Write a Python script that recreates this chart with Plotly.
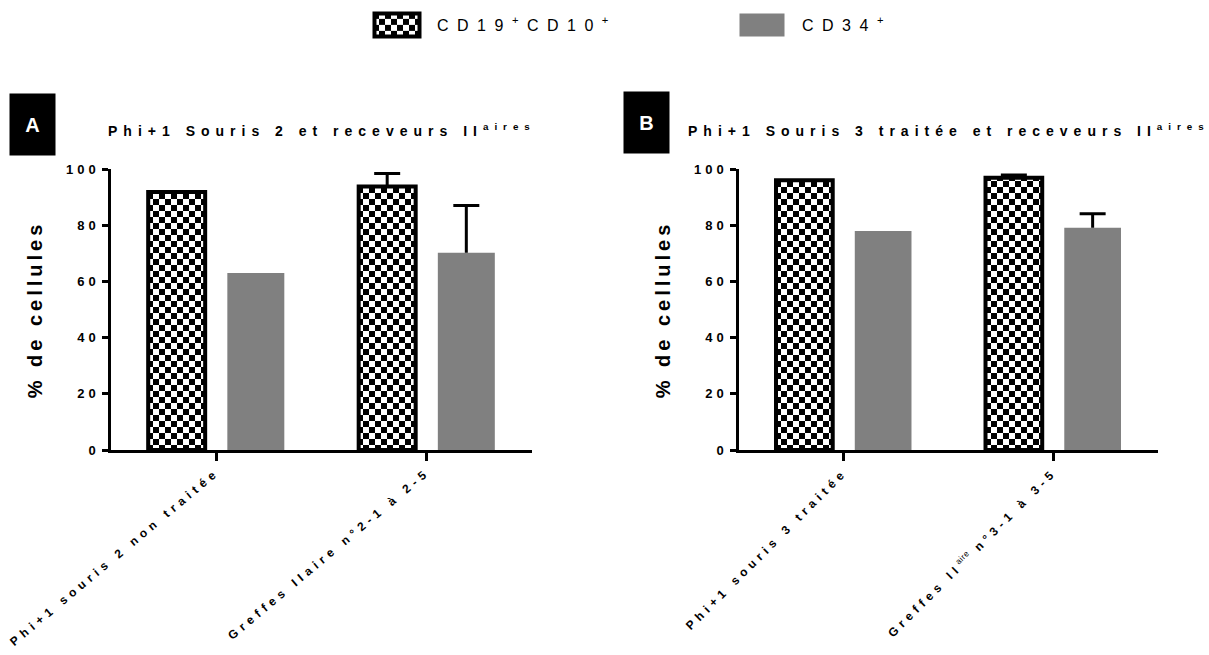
import plotly.graph_objects as go

# ---------------- data ----------------
series_names = ["CD19<sup>+</sup>CD10<sup>+</sup>", "CD34<sup>+</sup>"]

categories_A = ["Phi+1 souris 2 non traitée", "Greffes IIaire n°2-1 à 2-5"]
cd19_A = [91.8, 93.8]
cd19_A_err = [None, 4.6]
cd34_A = [63.0, 70.2]
cd34_A_err = [None, 16.8]

categories_B = ["Phi+1 souris 3 traitée", "Greffes II<sup>aire</sup> n°3-1 à 3-5"]
cd19_B = [96.0, 96.9]
cd19_B_err = [None, 1.0]
cd34_B = [77.9, 79.1]
cd34_B_err = [None, 5.0]

title_A = "Phi+1 Souris 2 et receveurs II<sup>aires</sup>"
title_B = "Phi+1 Souris 3 traitée et receveurs II<sup>aires</sup>"
y_title = "% de cellules"
y_ticks = [0, 20, 40, 60, 80, 100]

FONT = "Liberation Sans, Arial, sans-serif"
GRAY = "#808080"
W, H = 1209, 655

fig = go.Figure()


def add_panel(cats, v19, e19, v34, e34, xa, ya, show):
    fig.add_trace(go.Bar(
        x=cats, y=v19, name=series_names[0], xaxis=xa, yaxis=ya,
        legendgroup="cd19", showlegend=show,
        marker=dict(color="white", line=dict(color="black", width=4),
                    pattern=dict(shape="x", fgcolor="black", bgcolor="white",
                                 size=12, solidity=0.5)),
        error_y=dict(type="data", symmetric=False, array=e19,
                     arrayminus=[0] * len(e19), color="black",
                     thickness=3, width=13),
    ))
    fig.add_trace(go.Bar(
        x=cats, y=v34, name=series_names[1], xaxis=xa, yaxis=ya,
        legendgroup="cd34", showlegend=show,
        marker=dict(color=GRAY, line=dict(width=0)),
        error_y=dict(type="data", symmetric=False, array=e34,
                     arrayminus=[0] * len(e34), color="black",
                     thickness=3, width=13),
    ))


add_panel(categories_A, cd19_A, cd19_A_err, cd34_A, cd34_A_err, "x", "y", True)
add_panel(categories_B, cd19_B, cd19_B_err, cd34_B, cd34_B_err, "x2", "y2", False)

ydom = [1 - 450 / H, 1 - 169 / H]
xdomA = [111 / W, 532 / W]
xdomB = [739 / W, 1158 / W]

xaxis_common = dict(
    range=[-0.5, 1.5], showline=True, linewidth=2.5, linecolor="black",
    ticks="outside", ticklen=8, tickwidth=2.5, tickcolor="black",
    showgrid=False, zeroline=False, automargin=False,
    tickfont=dict(family=FONT, size=12, color="black", weight="bold"),
)
yaxis_common = dict(
    range=[0, 100], tickvals=y_ticks, showline=True, linewidth=2.5,
    linecolor="black", ticks="outside", ticklen=6, tickwidth=2.5,
    tickcolor="black", showgrid=False, zeroline=False, automargin=False,
    tickfont=dict(family=FONT, size=13, color="black", weight="bold"),
    title=dict(text=y_title, standoff=30,
               font=dict(family=FONT, size=20, color="black", weight="bold")),
    domain=ydom,
)

fig.update_layout(
    width=W, height=H,
    margin=dict(l=0, r=0, t=0, b=0, autoexpand=False),
    paper_bgcolor="white", plot_bgcolor="white",
    barmode="group", bargap=0.248, bargroupgap=0.28,
    font=dict(family=FONT, color="black"),
    xaxis=dict(domain=xdomA, anchor="y", tickangle=-40, **xaxis_common),
    yaxis=dict(anchor="x", **yaxis_common),
    xaxis2=dict(domain=xdomB, anchor="y2", tickangle=-45, **xaxis_common),
    yaxis2=dict(anchor="x2", **yaxis_common),
    legend=dict(orientation="h", x=357 / W, xanchor="left", y=1 - 8 / H,
                yanchor="top", itemwidth=70, entrywidth=280,
                font=dict(family=FONT, size=16, color="black"),
                bgcolor="rgba(0,0,0,0)"),
    showlegend=True,
)

title_y = 1 - 130 / H
for txt, xr in [(title_A, "x domain"), (title_B, "x2 domain")]:
    fig.add_annotation(text=txt, xref=xr, yref="paper", x=0.5, y=title_y,
                       xanchor="center", yanchor="middle", showarrow=False,
                       font=dict(family=FONT, size=14, color="black", weight="bold"))

for letter, cx, cy in [("A", 32.5, 124.5), ("B", 646.5, 122)]:
    fig.add_annotation(text=letter, xref="paper", yref="paper", x=cx / W, y=1 - cy / H,
                       xanchor="center", yanchor="middle", showarrow=False,
                       width=45, height=61, bgcolor="black", borderpad=0,
                       font=dict(family=FONT, size=20, color="white", weight="bold"))

post = r"""
document.body.style.margin = '0';
document.body.style.overflow = 'hidden';
var gd = document.querySelector('.js-plotly-plot');
var ns = 'http://www.w3.org/2000/svg';
gd.querySelectorAll('pattern').forEach(function(p){
  var c = 6;
  p.setAttribute('width', 2*c); p.setAttribute('height', 2*c);
  p.removeAttribute('patternTransform');
  while (p.firstChild) p.removeChild(p.firstChild);
  function r(x,y,w,h,f){var e=document.createElementNS(ns,'rect');
    e.setAttribute('x',x);e.setAttribute('y',y);e.setAttribute('width',w);
    e.setAttribute('height',h);e.setAttribute('fill',f);
    e.setAttribute('shape-rendering','crispEdges');p.appendChild(e);}
  r(0,0,2*c,2*c,'#ffffff'); r(0,0,c,c,'#000000'); r(c,c,c,c,'#000000');
});
gd.querySelectorAll('.legend .legendpoints path').forEach(function(e){
  var d = e.getAttribute('d') || '';
  if (d.indexOf('M6,6H-6V-6H6Z') === 0) e.setAttribute('d', 'M22.5,11.5H-22.5V-11.5H22.5Z');
});
// one-sided (upper) error bars: drop the lower cap, hide zero-length bars
gd.querySelectorAll('.errorbar path.yerror').forEach(function(e){
  var d = e.getAttribute('d') || '';
  var i = d.indexOf('V');
  if (i < 0) return;
  var c = d.indexOf(',');
  var h = d.indexOf('h');
  var yh = parseFloat(d.substring(c + 1, h));
  var j = d.indexOf('m', i);
  var ys = parseFloat(d.substring(i + 1, j > 0 ? j : d.length));
  if (Math.abs(yh - ys) < 0.5) { e.style.display = 'none'; return; }
  if (j > 0) e.setAttribute('d', d.substring(0, j));
});
function ls(sel, v){ gd.querySelectorAll(sel).forEach(function(e){ e.style.letterSpacing = v; }); }
ls('.xtick text', '4.7px');
ls('.x2tick text', '4.6px');
gd.querySelectorAll('.x2tick text tspan').forEach(function(t){
  var st = t.getAttribute('style') || '';
  if (st.indexOf('font-size') >= 0) { t.style.letterSpacing = '0.5px'; t.style.fontWeight = 'normal'; }
});
ls('.ytick text, .y2tick text', '4px');
ls('.g-ytitle text, .g-y2title text', '4px');
ls('.legendtext', '8.5px');
gd.querySelectorAll('.annotation-text').forEach(function(e){
  if ((e.textContent || '').length > 1) e.style.letterSpacing = '6px';
});
"""

fig.write_html("out.html", post_script=post, config={"displayModeBar": False})
